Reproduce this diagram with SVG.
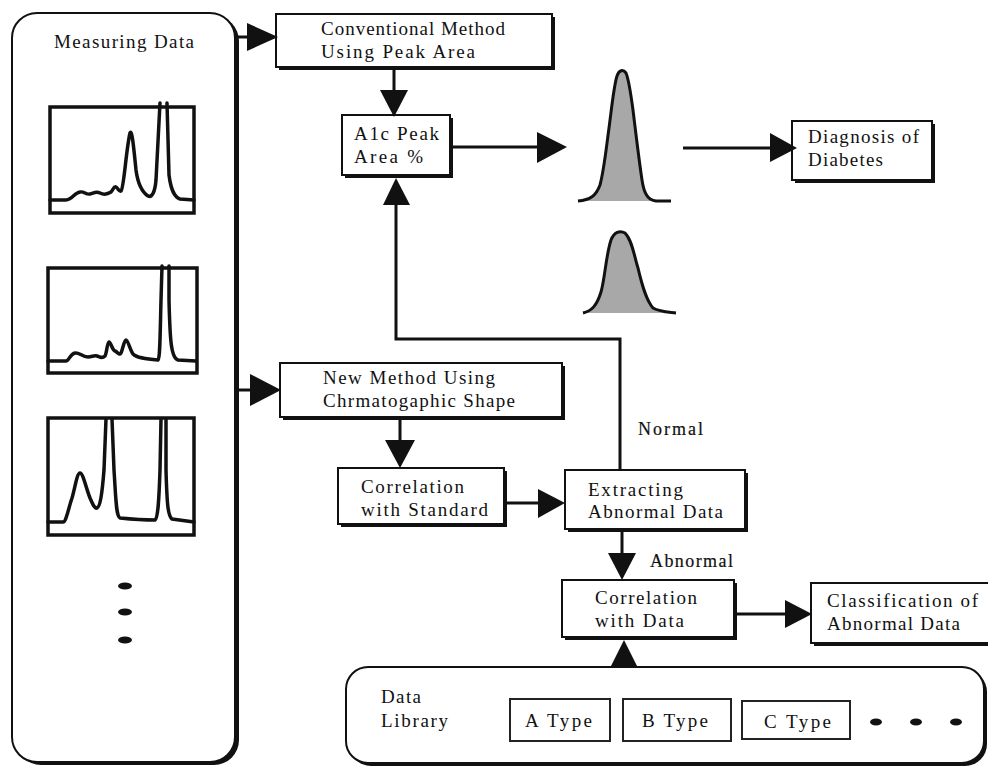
<svg xmlns="http://www.w3.org/2000/svg" width="988" height="768" viewBox="0 0 988 768">
<defs>
<style>
.t{font-family:"Liberation Serif","Times New Roman",serif;font-size:19px;fill:#111;}
.lb{stroke:#111;stroke-width:0.2;}
.box{fill:#fff;stroke:#111;stroke-width:2;}
.sh{fill:#111;}
.thin{fill:#fff;stroke:#222;stroke-width:2;}
.ln{fill:none;stroke:#111;stroke-width:3;}
.ah{fill:#111;}
.tr{fill:none;stroke:#111;stroke-width:3.5;stroke-linejoin:round;stroke-linecap:round;}
.fr{fill:#fff;stroke:#111;stroke-width:3.5;}
.pk{fill:#a8a8a8;stroke:#111;stroke-width:3;stroke-linejoin:round;}
</style>
</defs>
<rect width="988" height="768" fill="#fff"/>

<g id="measuring-data">
<rect x="16" y="16" width="223" height="749" rx="25" class="sh"/>
<rect x="12" y="13" width="223" height="749" rx="25" class="box"/>
<text class="t" x="54" y="48" textLength="140" lengthAdjust="spacing">Measuring Data</text>
<rect x="50" y="107" width="144" height="106" class="fr"/>
<path class="tr" d="M50,200 L66,200 C72,200 74,193 80,192 C84,191 86,195 90,194 C94,193 96,191 100,193 C104,195 108,194 111,192 C113,190 114,186 116,187 C118,188 119,192 121,191 C124,188 126,150 130,133 C132,128 134,150 136,170 C138,185 142,192 148,196 C152,198 155,192 156,180 L160,103 M167,103 L169,175 C171,190 174,197 180,199 L194,200"/>
<rect x="48" y="268" width="149" height="105" class="fr"/>
<path class="tr" d="M48,361 L66,361 C69,361 70,354 75,353 C79,352 82,357 88,357 C92,357 94,355 97,356 C100,357 102,359 105,356 C107,352 107,343 109,342 C111,342 112,350 115,351 C118,352 119,356 121,353 C123,349 124,340 126,340 C128,340 130,350 133,354 C137,358 145,359 158,360 C160,358 160,340 161,300 L162,266 M169,266 L169,300 C170,340 171,358 178,360 L196,361"/>
<rect x="48" y="418" width="146" height="117" class="fr"/>
<path class="tr" d="M48,522 L63,522 C66,522 68,510 72,498 C75,488 77,473 80,473 C83,473 86,488 90,498 C93,505 95,509 97,508 C100,507 102,495 104,470 L106,419 M112,419 L114,470 C116,500 116,516 120,518 C130,519 145,520 155,520 C158,518 159,500 160,470 L161,419 M166,419 L166,470 C167,505 168,516 172,519 L194,522"/>
<ellipse cx="125" cy="586" rx="7" ry="3.5" fill="#111"/>
<ellipse cx="125" cy="612" rx="7" ry="3.5" fill="#111"/>
<ellipse cx="125" cy="640" rx="7" ry="3.5" fill="#111"/>
</g>

<g id="conventional-method">
<rect x="279" y="17" width="276" height="53" class="sh"/>
<rect x="276" y="14" width="276" height="53" class="box"/>
<text class="t" x="321" y="35" textLength="184" lengthAdjust="spacing">Conventional Method</text>
<text class="t" x="321" y="58" textLength="154" lengthAdjust="spacing">Using Peak Area</text>
</g>

<g id="a1c-peak-area">
<rect x="345" y="118" width="108" height="60" class="sh"/>
<rect x="342" y="115" width="108" height="60" class="box"/>
<text class="t" x="354" y="140" textLength="85" lengthAdjust="spacing">A1c Peak</text>
<text class="t" x="354" y="163" textLength="69" lengthAdjust="spacing">Area %</text>
</g>

<g id="peak-normal">
<path class="pk" d="M578,201 C590,200 596,196 600,185 C604,170 606,150 609,128 C612,105 614,85 617,76 C619,70 623,69 626,73 C629,80 631,95 633,110 C636,135 639,160 642,180 C644,194 648,200 656,201 L671,201"/>
</g>

<g id="peak-abnormal">
<path class="pk" d="M583,313 C592,311 597,305 601,292 C605,278 606,255 611,240 C614,232 620,230 625,233 C632,240 634,255 638,268 C642,285 646,300 653,308 C660,312 668,312 676,313"/>
</g>

<g id="diagnosis">
<rect x="795" y="124" width="140" height="59" class="sh"/>
<rect x="792" y="121" width="140" height="59" class="box"/>
<text class="t" x="808" y="143" textLength="111" lengthAdjust="spacing">Diagnosis of</text>
<text class="t" x="808" y="166" textLength="75" lengthAdjust="spacing">Diabetes</text>
</g>

<g id="new-method">
<rect x="283" y="366" width="282" height="54" class="sh"/>
<rect x="280" y="363" width="282" height="54" class="box"/>
<text class="t" x="323" y="384" textLength="172" lengthAdjust="spacing">New Method Using</text>
<text class="t" x="323" y="407" textLength="192" lengthAdjust="spacing">Chrmatogaphic Shape</text>
</g>

<g id="correlation-standard">
<rect x="341" y="471" width="166" height="56" class="sh"/>
<rect x="338" y="468" width="166" height="56" class="box"/>
<text class="t" x="361" y="493" textLength="103" lengthAdjust="spacing">Correlation</text>
<text class="t" x="361" y="516" textLength="127" lengthAdjust="spacing">with Standard</text>
</g>

<g id="extracting">
<rect x="568" y="473" width="180" height="59" class="sh"/>
<rect x="565" y="470" width="180" height="59" class="box"/>
<text class="t" x="588" y="496" textLength="95" lengthAdjust="spacing">Extracting</text>
<text class="t" x="588" y="518" textLength="135" lengthAdjust="spacing">Abnormal Data</text>
</g>

<g id="correlation-data">
<rect x="565" y="583" width="172" height="57" class="sh"/>
<rect x="562" y="580" width="172" height="57" class="box"/>
<text class="t" x="595" y="604" textLength="102" lengthAdjust="spacing">Correlation</text>
<text class="t" x="595" y="627" textLength="89" lengthAdjust="spacing">with Data</text>
</g>

<g id="classification">
<rect x="814" y="586" width="190" height="60" class="sh"/>
<rect x="811" y="583" width="190" height="60" class="box"/>
<text class="t" x="827" y="607" textLength="151" lengthAdjust="spacing">Classification of</text>
<text class="t" x="827" y="630" textLength="133" lengthAdjust="spacing">Abnormal Data</text>
</g>

<g id="data-library">
<rect x="349" y="670" width="638" height="96" rx="22" class="sh"/>
<rect x="346" y="667" width="638" height="96" rx="22" class="box"/>
<text class="t" x="381" y="703" textLength="40" lengthAdjust="spacing">Data</text>
<text class="t" x="381" y="727" textLength="67" lengthAdjust="spacing">Library</text>
<g id="a-type">
<rect x="510" y="699" width="100" height="42" class="thin"/>
<text class="t" x="525" y="727" textLength="67" lengthAdjust="spacing">A Type</text>
</g>
<g id="b-type">
<rect x="623" y="699" width="108" height="42" class="thin"/>
<text class="t" x="642" y="727" textLength="66" lengthAdjust="spacing">B Type</text>
</g>
<g id="c-type">
<rect x="742" y="701" width="108" height="38" class="thin"/>
<text class="t" x="764" y="728" textLength="67" lengthAdjust="spacing">C Type</text>
</g>
<ellipse cx="876" cy="722" rx="6" ry="3.5" fill="#111"/>
<ellipse cx="916" cy="722" rx="6" ry="3.5" fill="#111"/>
<ellipse cx="956" cy="722" rx="6" ry="3.5" fill="#111"/>
</g>

<g id="connectors">
<line class="ln" x1="236" y1="37" x2="250" y2="37"/>
<polygon class="ah" points="247,23 247,51 278,37"/>
<line class="ln" x1="236" y1="390" x2="252" y2="390"/>
<polygon class="ah" points="250,374 250,406 281,390"/>
<line class="ln" x1="394" y1="70" x2="394" y2="92"/>
<polygon class="ah" points="380,90 408,90 394,117"/>
<line class="ln" x1="453" y1="147" x2="540" y2="147"/>
<polygon class="ah" points="537,132 537,163 567,147"/>
<line class="ln" x1="683" y1="148" x2="772" y2="148"/>
<polygon class="ah" points="770,133 770,162 797,148"/>
<polyline class="ln" points="620,470 620,339 396,339 396,203"/>
<polygon class="ah" points="383,205 410,205 396,178"/>
<line class="ln" x1="400" y1="420" x2="400" y2="442"/>
<polygon class="ah" points="385,440 415,440 400,468"/>
<line class="ln" x1="507" y1="503" x2="540" y2="503"/>
<polygon class="ah" points="538,489 538,518 565,503"/>
<line class="ln" x1="622" y1="532" x2="622" y2="555"/>
<polygon class="ah" points="608,553 636,553 622,580"/>
<line class="ln" x1="737" y1="614" x2="787" y2="614"/>
<polygon class="ah" points="785,600 785,628 812,614"/>
<polygon class="ah" points="610,668 638,668 624,640"/>
<text class="t lb" x="638" y="435" textLength="65" lengthAdjust="spacing" style="font-size:18px">Normal</text>
<text class="t lb" x="650" y="567" textLength="83" lengthAdjust="spacing" style="font-size:18px">Abnormal</text>
</g>
</svg>
